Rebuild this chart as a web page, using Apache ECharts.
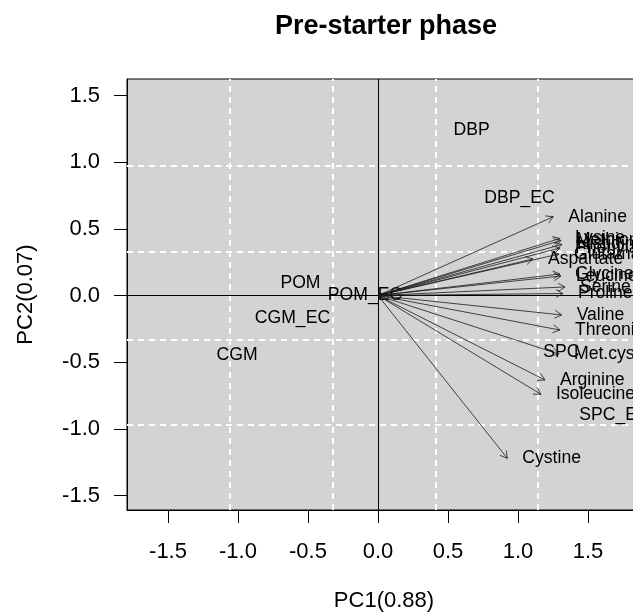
<!DOCTYPE html>
<html><head><meta charset="utf-8">
<script src="https://cdn.jsdelivr.net/npm/echarts@6/dist/echarts.min.js"></script>
<style>html,body{margin:0;padding:0;background:#fff}#c{width:633px;height:615px}</style>
</head><body><div id="c"></div>
<script>
// ---- data ----
const sampleNames = ['DBP', 'DBP_EC', 'POM', 'POM_EC', 'CGM_EC', 'CGM', 'SPC', 'SPC_EC'];
const samplePC1 = [0.669, 1.011, -0.554, -0.093, -0.611, -1.007, 1.31, 1.689];
const samplePC2 = [1.243, 0.733, 0.093, 0.005, -0.171, -0.449, -0.426, -0.899];

const varNames = ['Alanine', 'Lysine', 'Methionine', 'Histidine', 'Phenylalanine', 'Aspartate', 'Glutamate',
  'Glycine', 'Leucine', 'Serine', 'Proline', 'Valine', 'Threonine', 'Met.cys', 'Arginine', 'Isoleucine', 'Cystine'];
const varPC1 = [1.252, 1.300, 1.307, 1.314, 1.300, 1.107, 1.293, 1.300, 1.307, 1.336, 1.321, 1.312, 1.300, 1.293, 1.193, 1.164, 0.924];
const varPC2 = [0.591, 0.428, 0.413, 0.383, 0.356, 0.274, 0.311, 0.161, 0.146, 0.064, 0.015, -0.146, -0.259, -0.439, -0.634, -0.741, -1.221];

const xTicks = [-1.5, -1.0, -0.5, 0.0, 0.5, 1.0, 1.5];
const yTicks = [-1.5, -1.0, -0.5, 0.0, 0.5, 1.0, 1.5];
const xGrid = [-1.057, -0.324, 0.407, 1.143];
const yGrid = [-0.970, -0.325, 0.326, 0.973];
const xRange = [-1.793, 1.879];
const yRange = [-1.609, 1.624];

// ---- chart ----
const FONT = "'Liberation Sans', Arial, Helvetica, sans-serif";
const chart = echarts.init(document.getElementById('c'), null, {renderer: 'canvas'});

const gridLines = xGrid.map(v => ({xAxis: v, lineStyle: {color: '#ffffff', type: [6, 5], width: 2}}))
  .concat(yGrid.map(v => ({yAxis: v, lineStyle: {color: '#ffffff', type: [6, 5], width: 2}})))
  .concat([{xAxis: 0, lineStyle: {color: '#000', type: 'solid', width: 1}},
           {yAxis: 0, lineStyle: {color: '#000', type: 'solid', width: 1}}]);

const option = {
  animation: false,
  title: {
    text: 'Pre-starter phase', left: 270, top: 8,
    textStyle: {fontFamily: FONT, fontWeight: 'bold', fontSize: 27, color: '#000'}
  },
  grid: {left: 127, top: 79, width: 514, height: 431, outerBoundsMode: 'none', containLabel: false,
    show: true, backgroundColor: '#d3d3d3', borderColor: '#000', borderWidth: 1},
  xAxis: {
    type: 'value', min: xRange[0], max: xRange[1], position: 'bottom',
    axisLine: {show: true, onZero: false, lineStyle: {color: '#000'}},
    axisTick: {show: true, inside: false, length: 13, customValues: xTicks, lineStyle: {color: '#000'}},
    axisLabel: {customValues: xTicks, formatter: v => v.toFixed(1), margin: 31, fontSize: 22, color: '#000', fontFamily: FONT},
    splitLine: {show: false},
    name: 'PC1(0.88)', nameLocation: 'middle', nameGap: 80,
    nameTextStyle: {fontSize: 22, fontFamily: FONT, color: '#000'}
  },
  yAxis: {
    type: 'value', min: yRange[0], max: yRange[1], position: 'left',
    axisLine: {show: true, onZero: false, lineStyle: {color: '#000'}},
    axisTick: {show: true, inside: false, length: 13, customValues: yTicks, lineStyle: {color: '#000'}},
    axisLabel: {customValues: yTicks, formatter: v => v.toFixed(1), margin: 27, fontSize: 22, color: '#000', fontFamily: FONT},
    splitLine: {show: false},
    name: 'PC2(0.07)', nameLocation: 'middle', nameGap: 90,
    nameTextStyle: {fontSize: 22, fontFamily: FONT, color: '#000'}
  },
  series: [
    {
      type: 'custom', name: 'samples', z: 3,
      data: samplePC1.map((x, i) => [x, samplePC2[i]]),
      renderItem: function (params, api) {
        const p = api.coord([api.value(0), api.value(1)]);
        return {type: 'text', x: p[0], y: p[1], style: {text: sampleNames[params.dataIndex], fill: '#000', fontSize: 17.6, fontFamily: FONT, align: 'center', verticalAlign: 'middle'}};
      },
      markLine: {silent: true, symbol: ['none', 'none'], label: {show: false}, z: 1, data: gridLines}
    },
    {
      type: 'custom', name: 'loadings', z: 4,
      data: varPC1.map((x, i) => [x, varPC2[i]]),
      renderItem: function (params, api) {
        const p0 = api.coord([0, 0]);
        const p1 = api.coord([api.value(0), api.value(1)]);
        const ang = Math.atan2(p1[1] - p0[1], p1[0] - p0[0]);
        const L = 8, a = Math.PI / 6;
        const h1 = [p1[0] - L * Math.cos(ang - a), p1[1] - L * Math.sin(ang - a)];
        const h2 = [p1[0] - L * Math.cos(ang + a), p1[1] - L * Math.sin(ang + a)];
        return {
          type: 'group', children: [
            {type: 'line', shape: {x1: p0[0], y1: p0[1], x2: p1[0], y2: p1[1]}, style: {stroke: '#1a1a1a', lineWidth: 0.8}},
            {type: 'polyline', shape: {points: [h1, p1, h2]}, style: {stroke: '#1a1a1a', lineWidth: 0.8, fill: null}},
            {type: 'text', x: p1[0] + 15, y: p1[1], style: {text: varNames[params.dataIndex], fill: '#000', fontSize: 17.6, fontFamily: FONT, align: 'left', verticalAlign: 'middle'}}
          ]
        };
      }
    }
  ]
};
chart.setOption(option);
</script>
</body></html>
